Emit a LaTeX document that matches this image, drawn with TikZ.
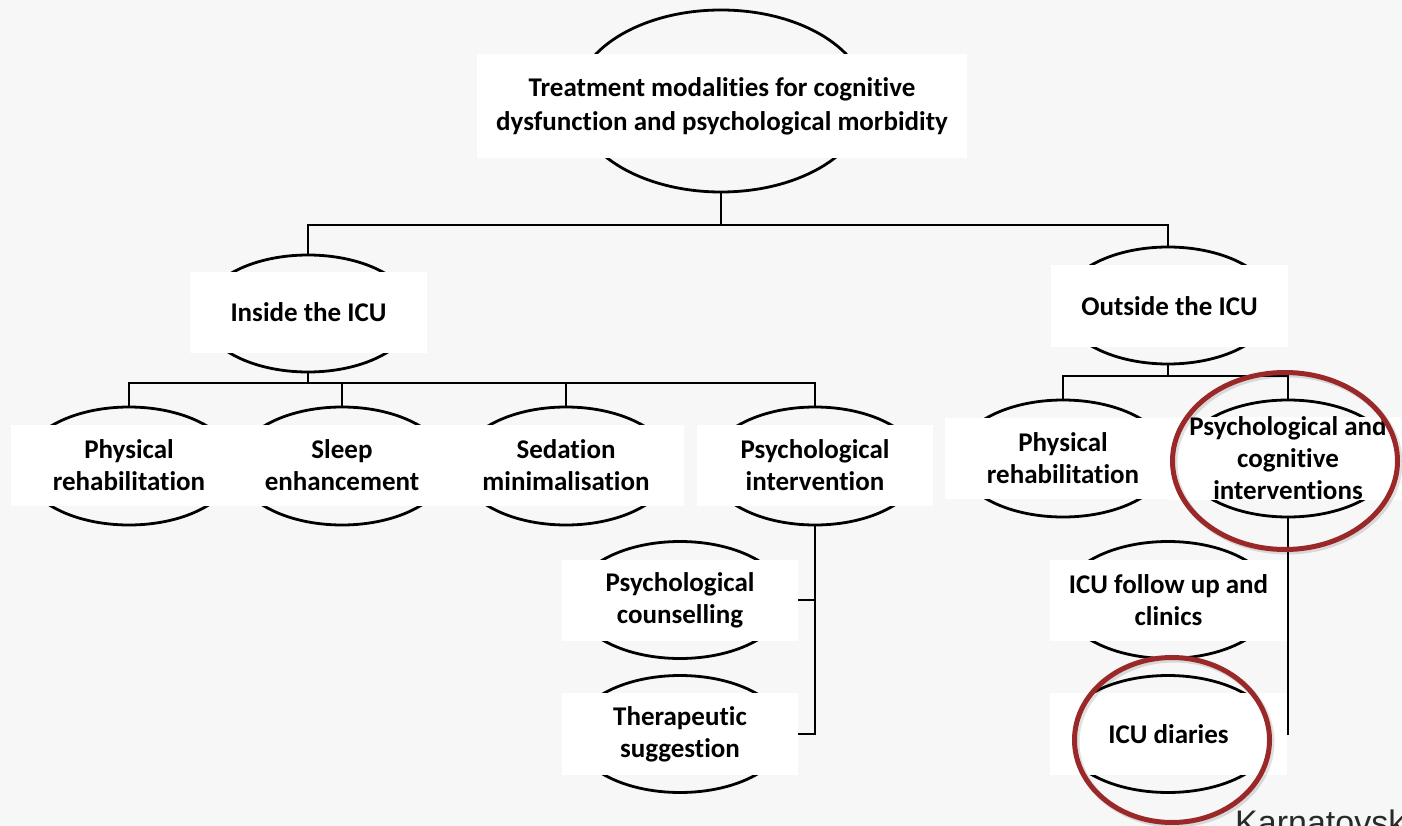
\documentclass[tikz,border=0pt]{standalone}
\usepackage{fontspec}
\setmainfont{Carlito}[Ligatures=NoCommon]
\newfontfamily\citefont{Liberation Sans}
\usetikzlibrary{shapes.geometric}
\definecolor{pagebg}{HTML}{F7F7F7}
\definecolor{ringred}{HTML}{9B2828}
\definecolor{citegray}{HTML}{2A2A2A}

\begin{document}
\begin{tikzpicture}[x=1pt,y=-1pt,
  oval/.style={ellipse, draw=black, line width=2.8pt, minimum width=212pt,
    minimum height=117pt, inner sep=0pt},
  textbox/.style={fill=white, draw=none, minimum width=236pt, minimum height=81pt,
    align=center, inner sep=0pt, font=\bfseries\fontsize{27}{32}\selectfont},
  link/.style={draw=black, line width=1.2pt},
  ring/.style={ellipse, draw=ringred, line width=5pt, inner sep=0pt},
  ringshade/.style={ellipse, draw=black, opacity=0.12, line width=6pt, inner sep=0pt}]

\useasboundingbox[fill=pagebg] (0,0) rectangle (1402,826);

% root
\node[oval, minimum width=292pt, minimum height=182pt] (root-o) at (721,101) {};
\node[textbox, minimum width=490pt, minimum height=104pt,
  font=\bfseries\fontsize{27}{34}\selectfont] (root) at (722,106)
  {Treatment modalities for cognitive\\dysfunction and psychological morbidity};

% second level
\node[oval] (in-o) at (308,313.5) {};
\node[textbox, minimum width=237pt] (in) at (308.5,312.5) {Inside the ICU};
\node[oval] (out-o) at (1168,305.5) {};
\node[textbox, minimum width=237pt, minimum height=82pt] (out) at (1169.5,306) {Outside the ICU};

% inside the ICU
\node[oval, minimum height=118pt] (phys-o) at (129,466) {};
\node[textbox] (phys) at (129,465) {Physical\\rehabilitation};
\node[oval, minimum height=118pt] (sleep-o) at (342,466) {};
\node[textbox] (sleep) at (342,465) {Sleep\\enhancement};
\node[oval, minimum height=118pt] (sed-o) at (566,466) {};
\node[textbox] (sed) at (566,465) {Sedation\\minimalisation};
\node[oval, minimum height=118pt] (psy-o) at (815,466) {};
\node[textbox] (psy) at (815,465) {Psychological\\intervention};

\node[oval] (couns-o) at (680,600) {};
\node[textbox] (couns) at (680,600) {Psychological\\counselling};
\node[oval] (thera-o) at (680,734) {};
\node[textbox, minimum height=82pt] (thera) at (680,734) {Therapeutic\\suggestion};

% outside the ICU
\node[oval] (rphys-o) at (1063,458.5) {};
\node[textbox] (rphys) at (1063,458.5) {Physical\\rehabilitation};
\node[oval] (pc-o) at (1288,458.5) {};
\node[textbox] (pc) at (1288,458.5) {Psychological and\\cognitive\\interventions};

\node[oval] (follow-o) at (1168,600) {};
\node[textbox, minimum width=237pt] (follow) at (1168.5,600) {ICU follow up and\\clinics};
\node[oval] (diary-o) at (1168,734) {};
\node[textbox, minimum width=237pt, minimum height=82pt] (diary) at (1168.5,734) {ICU diaries};

% connectors
\coordinate (j0) at (721,225);
\draw[link] (root-o.south) -- (j0);
\draw[link] (in-o.north) |- (out-o.north |- j0) -- (out-o.north);

\coordinate (j1) at (308,383);
\draw[link] (in-o.south) -- (j1);
\draw[link] (phys-o.north) |- (psy-o.north |- j1) -- (psy-o.north);
\draw[link] (sleep-o.north) -- (sleep-o.north |- j1);
\draw[link] (sed-o.north) -- (sed-o.north |- j1);

\draw[link] (psy-o.south) |- (couns.east);
\draw[link] (psy-o.south) |- (thera.east);

\coordinate (j2) at (1168,376);
\draw[link] (out-o.south) -- (j2);
\draw[link] (rphys-o.north) |- (pc-o.north |- j2) -- (pc-o.north);

\draw[link] (pc-o.south) |- (follow.east);
\draw[link] (pc-o.south) |- (diary.east);

% highlight rings
\node[ringshade, minimum width=225pt, minimum height=177pt] (shade1) at (1287,463) {};
\node[ring, minimum width=225pt, minimum height=177pt] (ring1) at (1285,461) {};
\node[ringshade, minimum width=195pt, minimum height=165pt] (shade2) at (1174,742) {};
\node[ring, minimum width=195pt, minimum height=165pt] (ring2) at (1172,740) {};

% source line, running off the page edge
\node[anchor=base west, inner sep=0pt, text=citegray,
  font=\citefont\fontsize{34}{40}\selectfont] (cite) at (1235,834) {Karnatovsk};
\end{tikzpicture}
\end{document}
